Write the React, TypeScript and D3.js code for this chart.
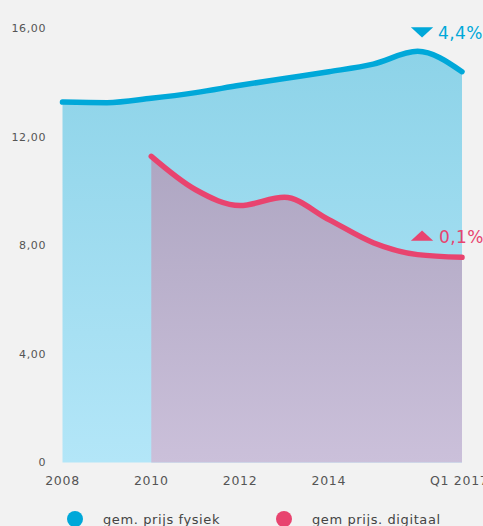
import React from "react";
import * as d3 from "d3";

// jaren (Q1 2017 staat op 2017)
const years = [2008, 2009, 2010, 2011, 2012, 2013, 2014, 2015, 2016, 2017];
const fysiek = [13.28, 13.26, 13.42, 13.63, 13.9, 14.15, 14.4, 14.68, 15.15, 14.4];
const digitaalYears = [2010, 2011, 2012, 2013, 2014, 2015, 2016, 2017];
const digitaal = [11.28, 10.05, 9.47, 9.77, 8.95, 8.1, 7.66, 7.56];
const xTicks = [2008, 2010, 2012, 2014, 2017];
const xTickLabels = ["2008", "2010", "2012", "2014", "Q1 2017"];
const yTicks = [0, 4, 8, 12, 16];
const legendLabels = ["gem. prijs fysiek", "gem prijs. digitaal"];
const changeLabels = ["4,4%", "0,1%"];

const W = 483;
const H = 526;
const BLUE = "#00a8d9";
const PINK = "#e8446f";
const FONT = "'DejaVu Sans', sans-serif";

export default function App() {
  const x = d3.scaleLinear().domain([2008, 2017]).range([62.5, 462]);
  const y = d3.scaleLinear().domain([0, 16]).range([462.5, 28.3]);

  const fysiekPts = years.map((yr, i) => [yr, fysiek[i]] as [number, number]);
  const digitaalPts = digitaalYears.map((yr, i) => [yr, digitaal[i]] as [number, number]);

  const area = d3
    .area<[number, number]>()
    .x((d) => x(d[0]))
    .y0(y(0))
    .y1((d) => y(d[1]))
    .curve(d3.curveMonotoneX);
  const line = d3
    .line<[number, number]>()
    .x((d) => x(d[0]))
    .y((d) => y(d[1]))
    .curve(d3.curveMonotoneX);

  const fmt = (v: number) => (v === 0 ? "0" : d3.format(".2f")(v).replace(".", ","));

  // platte driehoekjes bij de laatste waarde
  const tri = d3.symbol().type(d3.symbolTriangle).size(110);
  const lastF = fysiek[fysiek.length - 1];
  const lastD = digitaal[digitaal.length - 1];

  return (
    <svg
      width={W}
      height={H}
      style={{ position: "absolute", left: 0, top: 0, display: "block" }}
    >
      <defs>
        <linearGradient id="gBlue" x1="0" y1="0" x2="0" y2="1">
          <stop offset="0%" stopColor="#8dd3e8" />
          <stop offset="100%" stopColor="#b3e6f8" />
        </linearGradient>
        <linearGradient id="gPink" x1="0" y1="0" x2="0" y2="1">
          <stop offset="0%" stopColor="#aea6c2" />
          <stop offset="100%" stopColor="#cbc0da" />
        </linearGradient>
      </defs>
      <rect width={W} height={H} fill="#f2f2f2" />

      <path d={area(fysiekPts) ?? ""} fill="url(#gBlue)" />
      <path d={area(digitaalPts) ?? ""} fill="url(#gPink)" />
      <path
        d={line(fysiekPts) ?? ""}
        fill="none"
        stroke={BLUE}
        strokeWidth={5.5}
        strokeLinecap="round"
      />
      <path
        d={line(digitaalPts) ?? ""}
        fill="none"
        stroke={PINK}
        strokeWidth={5.5}
        strokeLinecap="round"
      />

      {/* y-as labels */}
      {yTicks.map((t) => (
        <text
          key={t}
          x={46}
          y={y(t)}
          dy="0.35em"
          textAnchor="end"
          fontFamily={FONT}
          fontSize={11}
          letterSpacing={0.6}
          fill="#555"
        >
          {fmt(t)}
        </text>
      ))}

      {/* x-as labels */}
      {xTicks.map((t, i) => {
        const last = i === xTicks.length - 1;
        return (
          <text
            key={t}
            x={last ? x(t) - 32 : x(t)}
            y={485}
            textAnchor={last ? "start" : "middle"}
            fontFamily={FONT}
            fontSize={12.5}
            letterSpacing={0.7}
            fill="#555"
          >
            {xTickLabels[i]}
          </text>
        );
      })}

      {/* veranderingen */}
      <path
        d={tri() ?? ""}
        transform={`translate(${x(2016.1)},${y(lastF) - 41}) scale(1.4,-0.75)`}
        fill={BLUE}
      />
      <text x={438} y={39} fontFamily={FONT} fontSize={17} fill={BLUE} letterSpacing={0.4}>
        {changeLabels[0]}
      </text>
      <path
        d={tri() ?? ""}
        transform={`translate(${x(2016.1)},${y(lastD) - 20}) scale(1.4,0.75)`}
        fill={PINK}
      />
      <text x={439} y={243} fontFamily={FONT} fontSize={17} fill={PINK} letterSpacing={0.4}>
        {changeLabels[1]}
      </text>

      {/* legenda */}
      {legendLabels.map((l, i) => (
        <g key={l} transform={`translate(${i === 0 ? 75 : 284},519)`}>
          <circle r={8} fill={i === 0 ? BLUE : PINK} />
          <text
            x={28}
            dy="0.35em"
            fontFamily={FONT}
            fontSize={13}
            letterSpacing={0.6}
            fill="#444"
          >
            {l}
          </text>
        </g>
      ))}
    </svg>
  );
}
